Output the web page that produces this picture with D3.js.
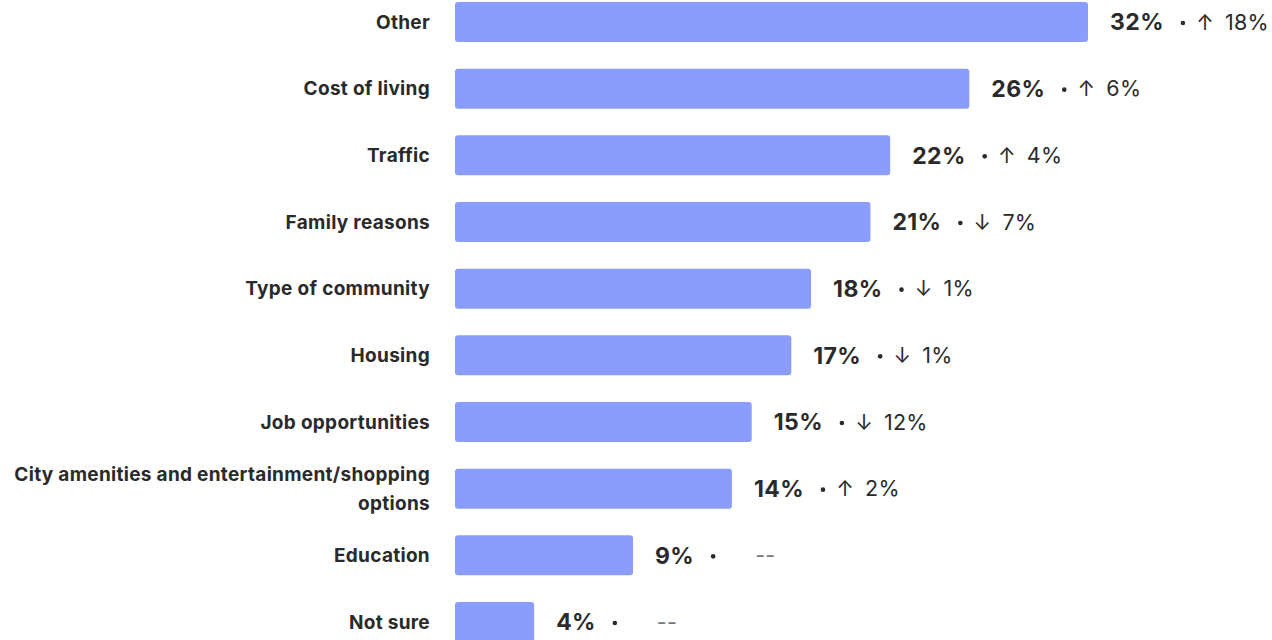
<!DOCTYPE html>
<html><head><meta charset="utf-8">
<script src="https://cdn.jsdelivr.net/npm/d3@7"></script>
<style>
html,body{margin:0;padding:0;background:#fff;}
svg{display:block;font-family:Inter, "Noto Sans", sans-serif;}
</style></head>
<body>
<svg id="chart" width="1272" height="640"></svg>
<script>
const categories = ["Other","Cost of living","Traffic","Family reasons","Type of community","Housing","Job opportunities","City amenities and entertainment/shopping options","Education","Not sure"];
const labelLines = [["Other"],["Cost of living"],["Traffic"],["Family reasons"],["Type of community"],["Housing"],["Job opportunities"],["City amenities and entertainment/shopping","options"],["Education"],["Not sure"]];
const values = [32,26,22,21,18,17,15,14,9,4];
const changeDir = ["up","up","up","down","down","down","down","up",null,null];
const changeVal = [18,6,4,7,1,1,12,2,null,null];

const svg = d3.select("#chart");
const x = d3.scaleLinear().domain([0,32]).range([455,1088]);
const y = d3.scaleBand().domain(categories).range([2,642]).paddingInner(0.4).paddingOuter(0);
const data = categories.map((c,i)=>({c, v:values[i], dir:changeDir[i], dv:changeVal[i], lines:labelLines[i]}));

svg.selectAll("rect.bar").data(data).join("rect")
  .attr("class","bar")
  .attr("x", x(0)).attr("y", d=>y(d.c))
  .attr("width", d=>x(d.v)-x(0)).attr("height", y.bandwidth())
  .attr("rx",3).attr("fill","#8B9DFC");

// category labels
data.forEach(d=>{
  const cy = y(d.c)+y.bandwidth()/2;
  const lh = 29;
  const n = d.lines.length;
  const t = svg.append("text").attr("x",430).attr("text-anchor","end")
    .attr("font-size",19).attr("font-weight",700).attr("letter-spacing",0.3).attr("fill","#2a2a2a");
  d.lines.forEach((ln,k)=>{
    t.append("tspan").attr("x",430).attr("y", cy + (k-(n-1)/2)*lh).attr("dy","0.35em").text(ln);
  });
});

// value labels
data.forEach(d=>{
  const cy = y(d.c)+y.bandwidth()/2;
  const x0 = x(d.v)+22;
  const vt = svg.append("text").attr("x",x0).attr("y",cy).attr("dy","0.36em")
    .attr("font-size",23).attr("font-weight",700).attr("letter-spacing",0.4).attr("fill","#2a2a2a").text(d.v+"%");
  const w = vt.node().getComputedTextLength();
  const dotX = x0 + w + 19;
  svg.append("circle").attr("cx",dotX).attr("cy",cy+1).attr("r",2.3).attr("fill","#2a2a2a");
  if(d.dir){
    svg.append("text").attr("x",dotX+22).attr("y",cy).attr("dy","0.36em").attr("text-anchor","middle")
      .attr("font-size",21).attr("fill","#2a2a2a").text(d.dir==="up"?"↑":"↓");
  }
  svg.append("text").attr("x",dotX+42).attr("y",cy).attr("dy","0.36em")
    .attr("font-size",21.5).attr("font-weight",400).attr("letter-spacing",0.3).attr("fill", d.dir?"#2a2a2a":"#777")
    .text(d.dv==null?"--":d.dv+"%");
});
</script>
</body></html>
